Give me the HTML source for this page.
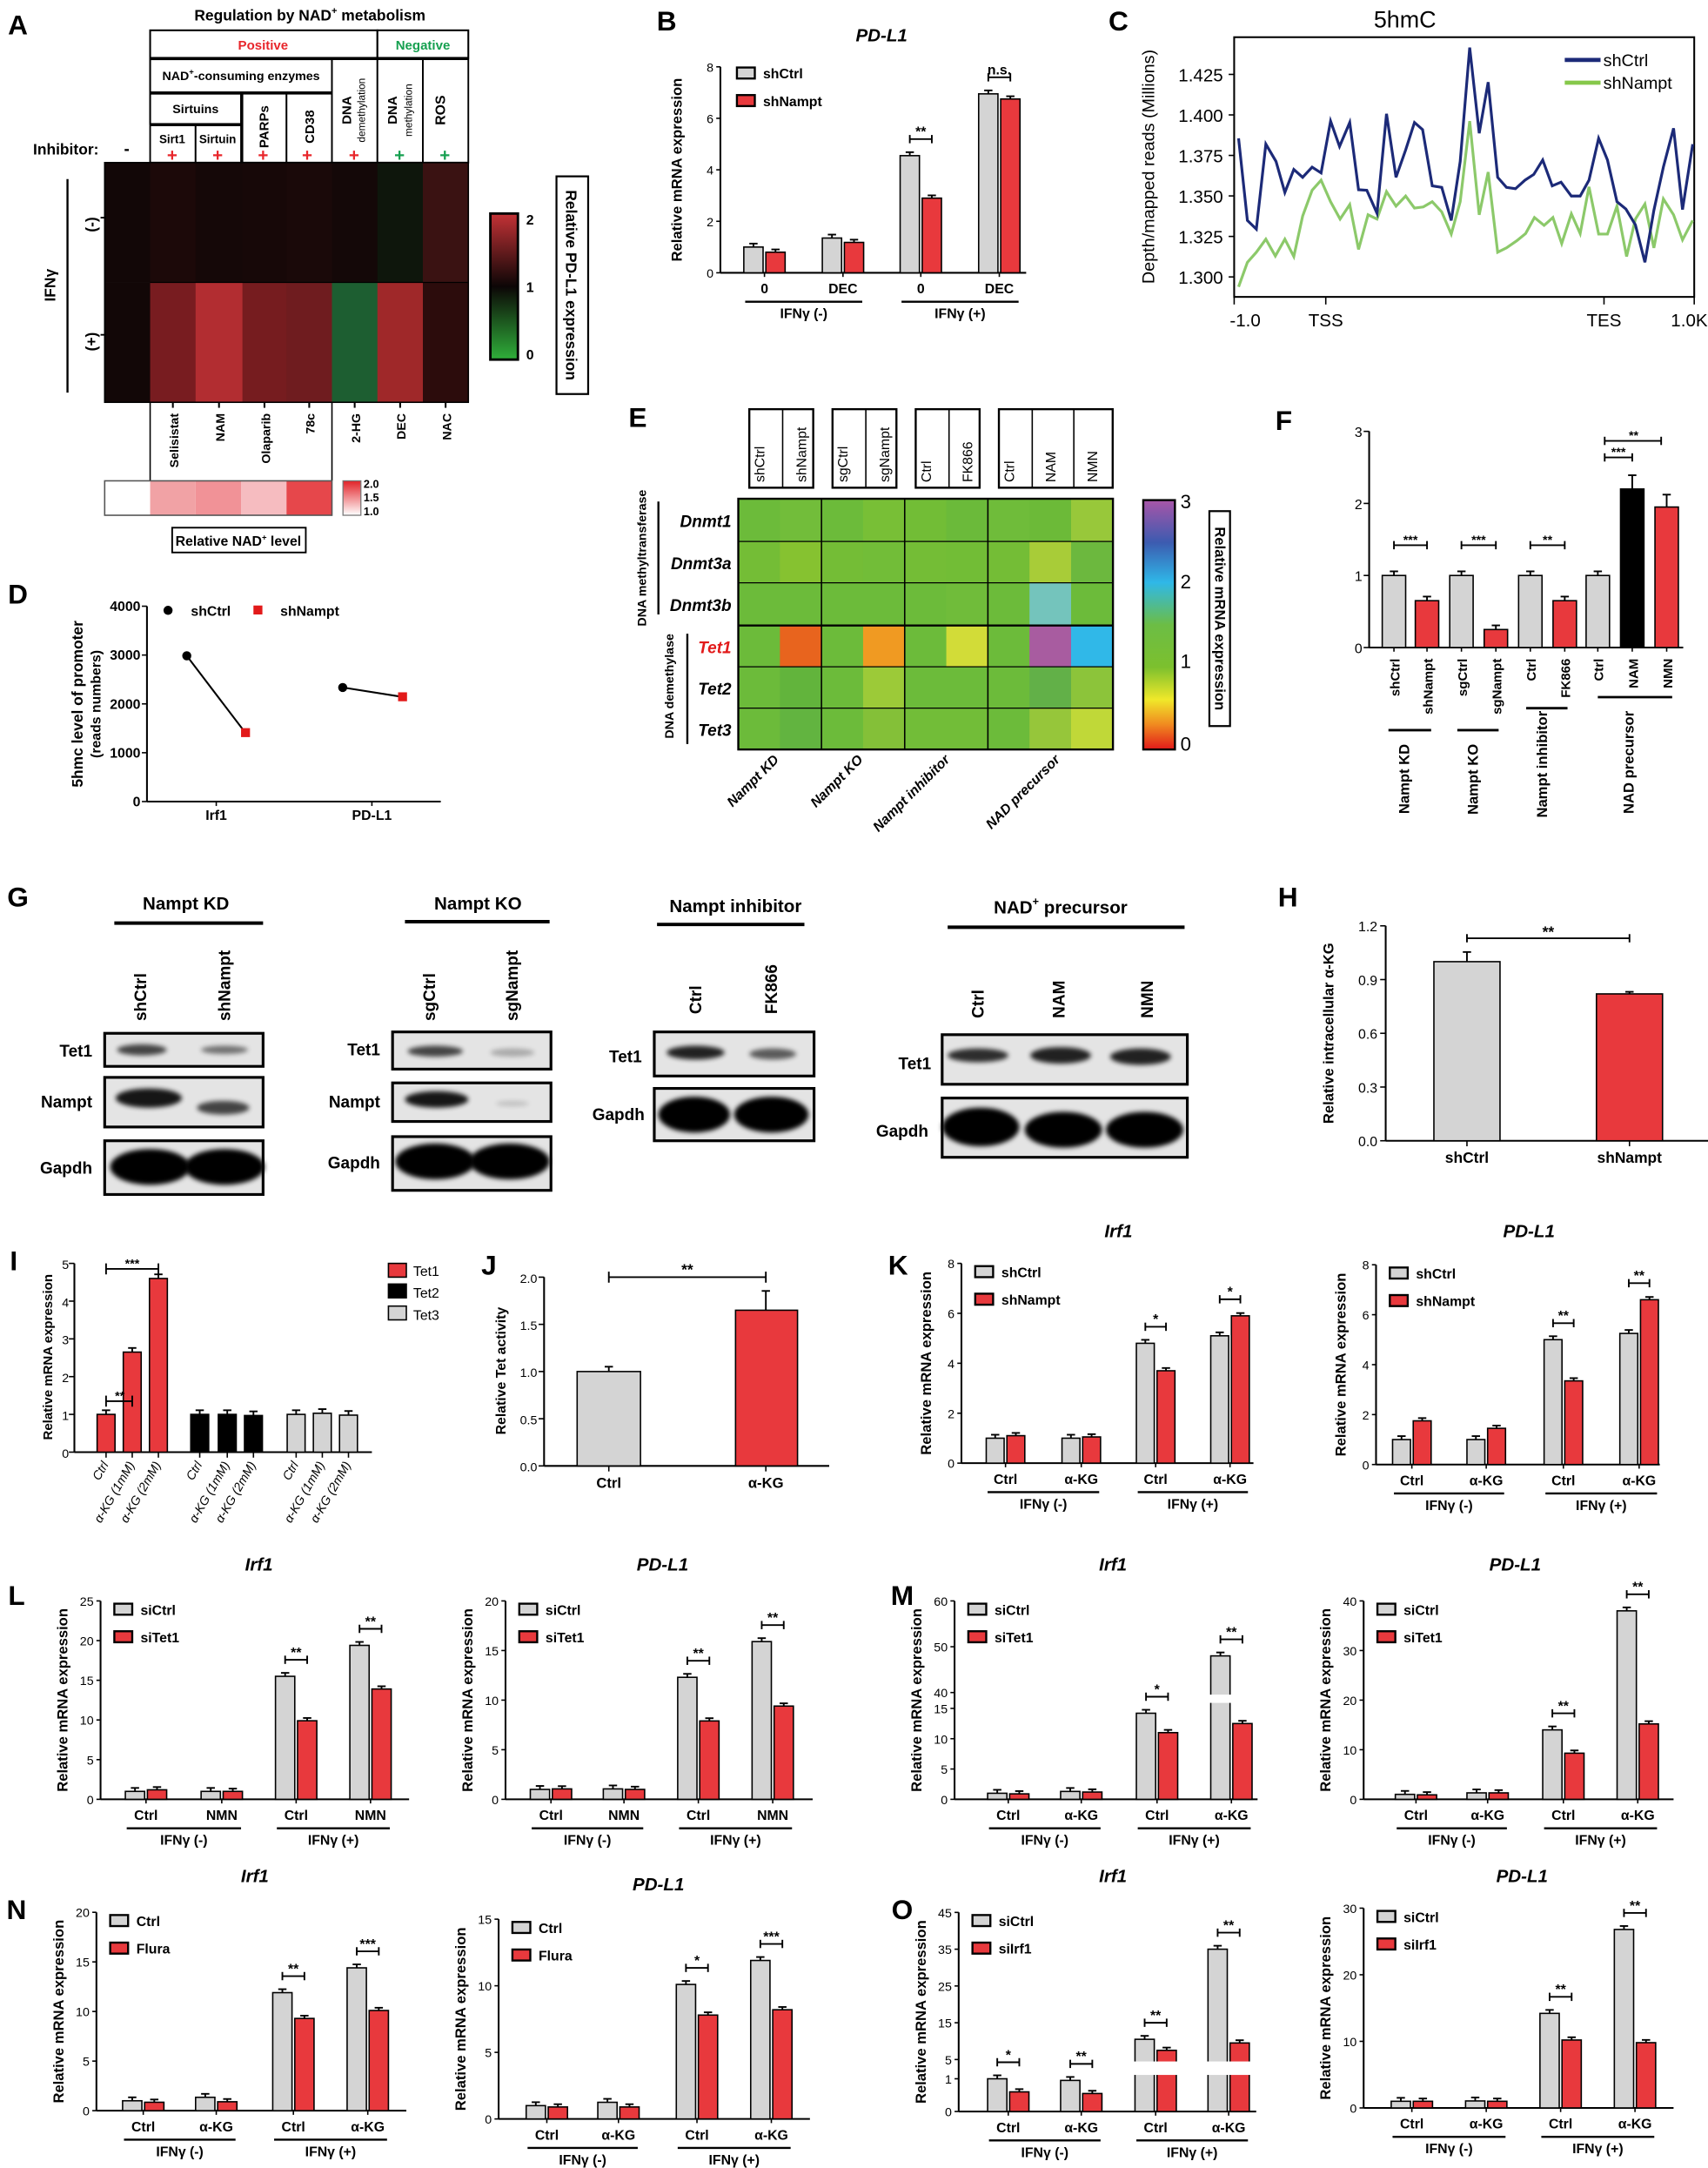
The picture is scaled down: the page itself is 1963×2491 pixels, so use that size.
<!DOCTYPE html>
<html><head><meta charset="utf-8">
<style>html,body{margin:0;padding:0;background:#fff}svg{display:block}text{font-family:"Liberation Sans",Arial,sans-serif}</style>
</head><body>
<svg id="s" xmlns="http://www.w3.org/2000/svg" width="1963" height="2491" viewBox="0 0 1240 1573.6" preserveAspectRatio="none"></svg>
<script>
const S=[];
function R(x,y,w,h,f,st,sw){S.push(`<rect x="${x}" y="${y}" width="${w}" height="${h}" fill="${f}"${st?` stroke="${st}" stroke-width="${sw||0.9}"`:''}/>`);}
function L(x1,y1,x2,y2,w,c){S.push(`<line x1="${x1}" y1="${y1}" x2="${x2}" y2="${y2}" stroke="${c||'#000'}" stroke-width="${w||1}"/>`);}
function T(x,y,s,o){o=o||{};S.push(`<text x="${x}" y="${y}" font-size="${o.fs||10}" font-weight="${o.n?'normal':'bold'}" text-anchor="${o.a||'middle'}" fill="${o.c||'#000'}"${o.i?' font-style="italic"':''}${o.r!=null?` transform="rotate(${o.r} ${x} ${y})"`:''}>${s}</text>`);}
function P(pts,c,w){S.push(`<polyline points="${pts.map(p=>p[0].toFixed(1)+','+p[1].toFixed(1)).join(' ')}" fill="none" stroke="${c}" stroke-width="${w}"/>`);}
const GR='#d4d4d4',RD='#e8393d';
function bar(x,y0,y1,w,f){R(x,Math.min(y0,y1),w,Math.abs(y1-y0),f,'#000',1);}
function eb(x,y,h){L(x,y,x,y-h,1.2);L(x-3,y-h,x+3,y-h,1.2);}
function chart(c){
 const yf=c.yf||(v=>c.bot-(v/c.max)*(c.bot-c.top));
 L(c.ax,c.top,c.ax,c.bot,1.3);L(c.ax,c.bot,c.xend,c.bot,1.3);
 c.ticks.forEach(t=>{const y=(c.tk?c.tk(t):yf(t));L(c.ax-3,y,c.ax,y,1);T(c.ax-5,y+3.5,t,{fs:c.tfs||9,a:'end',n:1});});
 const bw=c.bw||13;
 c.g.forEach((g,i)=>{bar(g-bw-1,c.bot,yf(c.v1[i]),bw,GR);bar(g+1,c.bot,yf(c.v2[i]),bw,RD);
   eb(g-bw/2-1,yf(c.v1[i]),2.5);eb(g+bw/2+1,yf(c.v2[i]),2);
   L(g,c.bot,g,c.bot+3,1);
   T(g,c.bot+15,c.xl[i],{fs:10});});
 (c.sig||[]).forEach(s=>{const g=c.g[s[0]];const y=Math.min(yf(c.v1[s[0]]),yf(c.v2[s[0]]))-(s[2]||12);
   L(g-bw/2-1,y,g+bw/2+1,y,1.2);L(g-bw/2-1,y-3,g-bw/2-1,y+3,1.2);L(g+bw/2+1,y-3,g+bw/2+1,y+3,1.2);T(g,y-2,s[1],{fs:10});});
 L(c.g[0]-bw,c.bot+21,c.g[1]+bw,c.bot+21,1.5);L(c.g[2]-bw,c.bot+21,c.g[3]+bw,c.bot+21,1.5);
 T((c.g[0]+c.g[1])/2,c.bot+33,c.lab?c.lab[0]:'IFNγ (-)',{fs:10});T((c.g[2]+c.g[3])/2,c.bot+33,c.lab?c.lab[1]:'IFNγ (+)',{fs:10});
 const lx=c.lx||c.ax+10,ly=c.ly||c.top+2;
 R(lx,ly,13,8,GR,'#000',1.5);T(lx+19,ly+8,c.leg[0],{fs:10,a:'start'});
 R(lx,ly+20,13,8,RD,'#000',1.5);T(lx+19,ly+28,c.leg[1],{fs:10,a:'start'});
 if(c.title)T(c.tx,c.ty,c.title,{fs:13,i:1});
 T(c.ax-(c.ylx||28),(c.top+c.bot)/2,c.ylab||'Relative mRNA expression',{fs:10.5,r:-90});
}
S.push('<defs><filter id="bl" x="-30%" y="-60%" width="160%" height="220%"><feGaussianBlur stdDeviation="1.6"/></filter><linearGradient id="ga" x1="0" y1="0" x2="0" y2="1"><stop offset="0" stop-color="#c43236"/><stop offset="0.5" stop-color="#0c0606"/><stop offset="1" stop-color="#2fb03a"/></linearGradient><linearGradient id="gn" x1="0" y1="0" x2="0" y2="1"><stop offset="0" stop-color="#e22228"/><stop offset="1" stop-color="#fff"/></linearGradient><linearGradient id="ge" x1="0" y1="0" x2="0" y2="1"><stop offset="0" stop-color="#a855a8"/><stop offset="0.17" stop-color="#3c5bb0"/><stop offset="0.33" stop-color="#2fb8e8"/><stop offset="0.5" stop-color="#6cbd45"/><stop offset="0.67" stop-color="#7cc02e"/><stop offset="0.8" stop-color="#f0e82a"/><stop offset="0.9" stop-color="#f08a20"/><stop offset="1" stop-color="#e21a1a"/></linearGradient></defs>');
// ---------- Panel A ----------
T(13,25,'A',{fs:20});
T(225,15,'Regulation by NAD<tspan font-size="7" dy="-5">+</tspan><tspan dy="5"> metabolism</tspan>',{fs:11});
const cx=[76,109,142,176,208,241,274,307,340];
R(109,22,165,20,'#fff','#000',1.3);T(191,36,'Positive',{fs:9.5,c:'#e8262b'});
R(274,22,66,20,'#fff','#000',1.3);T(307,36,'Negative',{fs:9.5,c:'#16a050'});
R(109,43,132,24,'#fff','#000',1.3);T(175,58,'NAD<tspan font-size="6" dy="-4">+</tspan><tspan dy="4">-consuming enzymes</tspan>',{fs:9});
R(109,68,66,22,'#fff','#000',1.3);T(142,82,'Sirtuins',{fs:9});
R(109,91,33,27,'#fff','#000',1.2);T(125,104,'Sirt1',{fs:8.5});
R(142,91,33,27,'#fff','#000',1.2);T(158,104,'Sirtuin',{fs:8.5});
R(176,68,32,50,'#fff','#000',1.2);T(195,92,'PARPs',{fs:9.5,r:-90});
R(208,68,33,50,'#fff','#000',1.2);T(228,92,'CD38',{fs:9.5,r:-90});
R(241,43,33,75,'#fff','#000',1.2);T(255,80,'DNA',{fs:9.5,r:-90});T(265,80,'demethylation',{fs:7.5,r:-90,n:1});
R(274,43,33,75,'#fff','#000',1.2);T(288,80,'DNA',{fs:9.5,r:-90});T(299,80,'methylation',{fs:7.5,r:-90,n:1});
R(307,43,33,75,'#fff','#000',1.2);T(323,80,'ROS',{fs:10,r:-90});
T(24,112,'Inhibitor:',{fs:11,a:'start'});T(92,112,'-',{fs:12});
[125,158,191,223].forEach(x=>T(x,117,'+',{fs:13,c:'#e8262b'}));T(257,117,'+',{fs:13,c:'#e8262b'});
T(290,117,'+',{fs:13,c:'#16a050'});T(323,117,'+',{fs:13,c:'#16a050'});
const ra=['#120707','#1c0909','#150808','#170808','#1a0909','#140808','#0e160c','#3a1212'];
const rb=['#120707','#781c20','#b22d31','#761c1f','#6f1c1f','#1d5e31','#9f2829','#2c0c0c'];
for(let i=0;i<8;i++){R(cx[i],118,cx[i+1]-cx[i]+0.5,87,ra[i]);R(cx[i],205,cx[i+1]-cx[i]+0.5,87,rb[i]);}
R(76,118,264,174,'none','#000',1);L(109,205,340,205,0.8,'#000');
L(49,130,49,285,1.5);T(40,207,'IFNγ',{fs:11,r:-90});T(70,163,'(-)',{fs:11,r:-90});L(73,158,77,158,1.2);T(70,248,'(+)',{fs:11,r:-90});L(73,243,77,243,1.2);
const al=['Selisistat','NAM','Olaparib','78c','2-HG','DEC','NAC'];
al.forEach((s,i)=>{const x=(cx[i+1]+cx[i+2])/2;L(x,292,x,296,1.3);T(x+4,300,s,{fs:9,r:-90,a:'end'});});
L(109,292,109,349,1);L(241,292,241,349,1);
R(356,155,20,106,'url(#ga)','#000',1.8);T(382,163,'2',{fs:10,a:'start'});T(382,212,'1',{fs:10,a:'start'});T(382,261,'0',{fs:10,a:'start'});
R(404,128,23,158,'#fff','#000',1.4);T(411,207,'Relative PD-L1 expression',{fs:11,r:90});
const nc=['#fff','#f1a2a5','#f19297','#f6bcc0','#e6474b'];
for(let i=0;i<5;i++)R(76+i*33,349,33,25,nc[i]);R(76,349,165,25,'none','#555',1);
R(249,349,13,25,'url(#gn)','#777',0.8);T(264,354,'2.0',{fs:8,a:'start'});T(264,364,'1.5',{fs:8,a:'start'});T(264,374,'1.0',{fs:8,a:'start'});
R(125,383,97,18,'#fff','#000',1.2);T(173,396,'Relative NAD<tspan font-size="6" dy="-4">+</tspan><tspan dy="4"> level</tspan>',{fs:10});
// ---------- Panel B ----------
T(484,22,'B',{fs:20});
chart({ax:523,top:48.5,bot:198,max:8,ticks:[0,2,4,6,8],g:[555,612,668.5,725.5],v1:[1,1.35,4.55,6.95],v2:[0.8,1.18,2.9,6.75],bw:14,xl:['0','DEC','0','DEC'],sig:[[2,'**'],[3,'n.s.']],leg:['shCtrl','shNampt'],title:'PD-L1',tx:640,ty:30,lx:535,ly:49,xend:745});
// ---------- Panel C ----------
T(812,22,'C',{fs:20});T(1020,20,'5hmC',{fs:17,n:1});
R(896,27,334,188.5,'none','#000',1.3);
[[1.3,'1.300'],[1.325,'1.325'],[1.35,'1.350'],[1.375,'1.375'],[1.4,'1.400'],[1.425,'1.425']].forEach(t=>{const y=201-(t[0]-1.3)*1176;L(892,y,896,y,1);T(888,y+5,t[1],{fs:13,a:'end',n:1});});
[[896,'-1.0'],[962.5,'TSS'],[1164.5,'TES'],[1230,'1.0Kb']].forEach(t=>{L(t[0],215.5,t[0],221,1);T(t[0]+(t[1]=='-1.0'?8:0),237,t[1],{fs:13,n:1});});
T(838,121,'Depth/mapped reads (Millions)',{fs:12.5,r:-90,n:1});
const nv=[[872,480],[885,765],[898,795],[912,500],[927,560],[940,668],[953,588],[966,615],[980,580],[993,600],[1007,420],[1020,508],[1035,425],[1048,658],[1060,660],[1075,740],[1089,395],[1103,615],[1117,520],[1130,425],[1142,450],[1156,645],[1170,650],[1184,765],[1197,560],[1211,165],[1225,462],[1238,285],[1252,615],[1265,650],[1278,655],[1292,625],[1305,605],[1318,555],[1332,645],[1345,632],[1360,680],[1373,680],[1386,625],[1400,480],[1413,555],[1427,700],[1440,725],[1454,780],[1468,910],[1481,730],[1495,580],[1510,445],[1523,727],[1538,500]];
const gv=[[872,995],[885,910],[898,875],[912,830],[926,888],[940,830],[953,890],[966,750],[980,660],[993,625],[1007,700],[1021,760],[1035,710],[1048,865],[1062,745],[1075,760],[1089,665],[1103,715],[1117,680],[1130,722],[1143,718],[1156,700],[1170,735],[1184,812],[1197,700],[1211,420],[1225,745],[1238,597],[1252,875],[1265,860],[1280,835],[1293,810],[1306,755],[1320,782],[1333,755],[1346,845],[1360,742],[1373,810],[1386,648],[1400,812],[1413,812],[1427,715],[1441,890],[1454,760],[1468,708],[1481,860],[1495,690],[1510,745],[1523,832],[1538,765]];
const cv=p=>p.map(a=>[467.5+a[0]/2.02,a[1]/4.78]);
P(cv(gv),'#8cc96a',2);P(cv(nv),'#1c2a78',2);
L(1136,43.5,1162,43.5,3,'#1c2a78');T(1164,48,'shCtrl',{fs:12.5,a:'start',n:1});
L(1136,60,1162,60,3,'#86c84a');T(1164,64.5,'shNampt',{fs:12.5,a:'start',n:1});
// ---------- Panel D ----------
T(13,438,'D',{fs:20});
L(106.7,440,106.7,581.8,1.3);L(106.7,581.8,320,581.8,1.3);
[0,1000,2000,3000,4000].forEach(v=>{const y=581.8-v/4000*141.8;L(103,y,106.7,y,1);T(102,y+3.5,v,{fs:10,a:'end'});});
L(157,581.8,157,585,1);L(270,581.8,270,585,1);T(157,595,'Irf1',{fs:10});T(270,595,'PD-L1',{fs:10});
L(135.6,476,178,531.7,1.3);L(248.8,499,292,505.8,1.3);
S.push('<circle cx="135.6" cy="476" r="3.3" fill="#000"/><circle cx="248.8" cy="499" r="3.3" fill="#000"/><circle cx="122" cy="443" r="3.3" fill="#000"/>');
R(175,528.5,6.5,6.5,'#e21a1a');R(289,502.5,6.5,6.5,'#e21a1a');R(184,439.5,6.5,6.5,'#e21a1a');
T(138.6,447,'shCtrl',{fs:10,a:'start'});T(203.5,447,'shNampt',{fs:10,a:'start'});
T(60,511,'5hmc level of promoter',{fs:11,r:-90});T(73,511,'(reads numbers)',{fs:10,r:-90});
// ---------- Panel E ----------
T(463,310,'E',{fs:20});
const E=[
['#6cbb3a','#72bd3a','#6cbb3a','#78bf36','#72bd36','#6bba3a','#6fbc3a','#6cba38','#98c83a'],
['#74bd36','#86c230','#74bd36','#72bd38','#74bd36','#72bd36','#74bd36','#a8cc38','#6cb83e'],
['#6cbb3a','#6cbb3a','#6cbb3a','#6cbb3a','#6cbb3a','#70bc3a','#6cbb3a','#74c4bc','#6cbb3a'],
['#6cbb3a','#e8641e','#6cbb3a','#f09a22','#6cbb3a','#d2dc38','#6cbb3a','#a85ca0','#30b8e8'],
['#6cbb3a','#62b43c','#6cbb3a','#9cca38','#6cbb3a','#6cbb3a','#6cbb3a','#62b048','#8cc43a'],
['#6cbb3a','#62b440','#6cbb3a','#84c038','#72bd38','#72bd38','#6cbb3a','#96c63a','#c0d838']];
const ex=i=>536+i*30.2,ey=[362,393,423,454,484,514,544];
for(let r=0;r<6;r++)for(let c=0;c<9;c++)R(ex(c),ey[r],30.7,ey[r+1]-ey[r]+0.5,E[r][c]);
R(536,362,272,182,'none','#000',1.5);
[1,2,3,4,5].forEach(i=>L(536,ey[i],808,ey[i],i==3?1.5:0.8));
[2,4,6].forEach(i=>L(ex(i),362,ex(i),544,1));
const en=['shCtrl','shNampt','sgCtrl','sgNampt','Ctrl','FK866','Ctrl','NAM','NMN'];
const egs=[[0,2],[2,4],[4,6],[6,9]];
egs.forEach(g=>{const x0=ex(g[0])+8,x1=ex(g[1])-(g[1]==9?0:6);R(x0,297,x1-x0,57,'#fff','#000',1.5);for(let k=g[0]+1;k<g[1];k++)L(ex(k)+2,297,ex(k)+2,354,1);});
en.forEach((s,i)=>T(ex(i)+19,350,s,{fs:10,r:-90,a:'start',n:1}));
const rn=['Dnmt1','Dnmt3a','Dnmt3b','Tet1','Tet2','Tet3'];
rn.forEach((s,i)=>T(531,(ey[i]+ey[i+1])/2+5,s,{fs:12,i:1,a:'end',c:i==3?'#e21a1a':'#000'}));
L(478,364,478,446,1.5);L(499,460,499,540,1.5);
T(469,405,'DNA methyltransferase',{fs:9,r:-90});T(489,498,'DNA demethylase',{fs:9,r:-90});
[['Nampt KD',566],['Nampt KO',627],['Nampt inhibitor',690],['NAD precursor',770]].forEach(t=>T(t[1],552,t[0],{fs:10,i:1,a:'end',r:-45}));
R(830,363,23,181,'url(#ge)','#000',1.5);
T(857,369,'3',{fs:14,a:'start',n:1});T(857,427,'2',{fs:14,a:'start',n:1});T(857,485,'1',{fs:14,a:'start',n:1});T(857,545,'0',{fs:14,a:'start',n:1});
R(878,371,15,156,'#fff','#000',1.4);T(882,449,'Relative mRNA expression',{fs:10.5,r:90});
// ---------- Panel F ----------
T(932,312,'F',{fs:20});
L(994,313,994,470,1.3);L(994,470,1222,470,1.3);
[0,1,2,3].forEach(v=>{const y=470-v*52.3;L(990,y,994,y,1);T(989,y+4,v,{fs:10,a:'end',n:1});});
const fx=[1012,1036,1061,1086,1111,1136,1160,1185,1210],fv=[1,0.65,1,0.25,1,0.65,1,2.2,1.95],fc=[GR,RD,GR,RD,GR,RD,GR,'#000',RD];
fx.forEach((x,i)=>{const y=470-fv[i]*52.3;bar(x-8.5,470,y,17,fc[i]);eb(x,y,i==7?10:i==8?9:3);L(x,470,x,473,1);
 T(x+4,478,['shCtrl','shNampt','sgCtrl','sgNampt','Ctrl','FK866','Ctrl','NAM','NMN'][i],{fs:9.5,r:-90,a:'end'});});
[[0,'***'],[2,'***'],[4,'**']].forEach(s=>{const y=470-52.3-22;L(fx[s[0]],y,fx[s[0]+1],y,1.2);L(fx[s[0]],y-3,fx[s[0]],y+3,1.2);L(fx[s[0]+1],y-3,fx[s[0]+1],y+3,1.2);T((fx[s[0]]+fx[s[0]+1])/2,y-1,s[1],{fs:9});});
L(1165,332,1185,332,1.2);L(1165,329,1165,335,1.2);L(1185,329,1185,335,1.2);T(1175,331,'***',{fs:9});
L(1165,320,1206,320,1.2);L(1165,317,1165,323,1.2);L(1206,317,1206,323,1.2);T(1186,319,'**',{fs:9});
L(1008,530,1039,530,1.8);L(1058,530,1088,530,1.8);L(1108,514,1138,514,1.8);L(1160,506,1214,506,1.8);
T(1023,540,'Nampt KD',{fs:10.5,r:-90,a:'end'});T(1073,540,'Nampt KO',{fs:10.5,r:-90,a:'end'});T(1123,516,'Nampt inhibitor',{fs:10.5,r:-90,a:'end'});T(1186,516,'NAD precursor',{fs:10.5,r:-90,a:'end'});
// ---------- Panel G ----------
T(13,658,'G',{fs:20});
function blot(x,y,w,h,bands){R(x,y,w,h,'#e4e4e4','#000',2);bands.forEach(b=>S.push(`<ellipse cx="${b[0]}" cy="${b[1]}" rx="${b[2]}" ry="${b[3]}" fill="#000" opacity="${b[4]}" filter="url(#bl)"/>`));}
T(135,660,'Nampt KD',{fs:13});L(83,670,191,670,2.5);
T(106,741,'shCtrl',{fs:12,r:-90,a:'start'});T(167,741,'shNampt',{fs:12,r:-90,a:'start'});
blot(76,750,115,24,[[103,762,18,4,0.7],[163,762,17,3,0.5]]);blot(76,782,115,36,[[108,797,24,7,0.9],[162,804,19,5,0.7]]);blot(76,828,115,39,[[109,847,29,13,1],[163,847,29,13,1]]);
T(67,767,'Tet1',{fs:12,a:'end'});T(67,804,'Nampt',{fs:12,a:'end'});T(67,852,'Gapdh',{fs:12,a:'end'});
T(347,660,'Nampt KO',{fs:13});L(294,669,399,669,2.5);
T(316,741,'sgCtrl',{fs:12,r:-90,a:'start'});T(376,741,'sgNampt',{fs:12,r:-90,a:'start'});
blot(285,749,115,27,[[316,763,20,4,0.7],[372,764,16,3,0.25]]);blot(285,786,115,28,[[317,798,23,6,0.9],[372,801,12,2,0.15]]);blot(285,825,115,39,[[316,843,29,13,1],[370,843,29,13,1]]);
T(276,766,'Tet1',{fs:12,a:'end'});T(276,804,'Nampt',{fs:12,a:'end'});T(276,848,'Gapdh',{fs:12,a:'end'});
T(534,662,'Nampt inhibitor',{fs:13});L(477,671,584,671,2.5);
T(509,736,'Ctrl',{fs:12,r:-90,a:'start'});T(564,736,'FK866',{fs:12,r:-90,a:'start'});
blot(475,749,116,32,[[505,764,21,5,0.85],[561,765,17,4,0.6]]);blot(475,790,116,38,[[504,809,26,13,1],[560,809,27,13,1]]);
T(466,771,'Tet1',{fs:12,a:'end'});T(468,813,'Gapdh',{fs:12,a:'end'});
T(770,663,'NAD<tspan font-size="8" dy="-6">+</tspan><tspan dy="6"> precursor</tspan>',{fs:13});L(688,673,860,673,2.5);
T(714,739,'Ctrl',{fs:12,r:-90,a:'start'});T(773,739,'NAM',{fs:12,r:-90,a:'start'});T(837,739,'NMN',{fs:12,r:-90,a:'start'});
blot(684,751,178,36,[[710,766,22,5,0.8],[770,766,22,6,0.85],[828,767,22,6,0.85]]);blot(684,797,178,43,[[712,818,28,14,1],[772,820,28,13,1],[831,820,28,13,1]]);
T(676,776,'Tet1',{fs:12,a:'end'});T(674,825,'Gapdh',{fs:12,a:'end'});
// ---------- Panel H ----------
T(935,658,'H',{fs:20});
L(1006,672,1006,828,1.3);L(1006,828,1240,828,1.3);
[[0,'0.0'],[0.3,'0.3'],[0.6,'0.6'],[0.9,'0.9'],[1.2,'1.2']].forEach(t=>{const y=828-t[0]*130;L(1002,y,1006,y,1);T(1000,y+4,t[1],{fs:10,a:'end',n:1});});
bar(1041,828,698,48,GR);bar(1159,828,721.4,48,RD);eb(1065,698,7);eb(1183,721.4,1.5);
L(1065,681,1183,681,1.2);L(1065,678,1065,684,1.2);L(1183,678,1183,684,1.2);T(1124,680,'**',{fs:11});
L(1065,828,1065,832,1);L(1183,828,1183,832,1);T(1065,844,'shCtrl',{fs:11});T(1183,844,'shNampt',{fs:11});
T(968,750,'Relative intracellular α-KG',{fs:10.5,r:-90});
// ---------- Panel I ----------
T(10,922,'I',{fs:20});
L(54,917,54,1054,1.3);L(54,1054,270,1054,1.3);
[0,1,2,3,4,5].forEach(v=>{const y=1054-v*27.4;L(50,y,54,y,1);T(50,y+4,v,{fs:9,a:'end',n:1});});
const ix=[77,96,115,145,165,184,215,234,253],iv=[1,2.65,4.6,1,1,0.97,1,1.03,0.98],ic=[RD,RD,RD,'#000','#000','#000',GR,GR,GR];
ix.forEach((x,i)=>{const y=1054-iv[i]*27.4;bar(x-6.5,1054,y,13,ic[i]);eb(x,y,3);L(x,1054,x,1058,1);
 T(x+2,1063,['Ctrl','α-KG (1mM)','α-KG (2mM)'][i%3],{fs:9,i:1,n:1,a:'end',r:-60});});
L(77,1017,96,1017,1.2);L(77,1013,77,1021,1.2);L(96,1013,96,1021,1.2);T(87,1016,'**',{fs:9});
L(77,921,115,921,1.2);L(77,917,77,925,1.2);L(115,917,115,925,1.2);T(96,920,'***',{fs:9});
R(282,917,13,10,RD,'#000',1);T(300,926,'Tet1',{fs:10,a:'start',n:1});R(282,932,13,10,'#000','#000',1);T(300,942,'Tet2',{fs:10,a:'start',n:1});R(282,948,13,10,GR,'#000',1);T(300,958,'Tet3',{fs:10,a:'start',n:1});
T(38,985,'Relative mRNA expression',{fs:9.5,r:-90});
// ---------- Panel J ----------
T(355,925,'J',{fs:20});
L(395,927,395,1064,1.3);L(395,1064,602,1064,1.3);
[[0,'0.0'],[0.5,'0.5'],[1,'1.0'],[1.5,'1.5'],[2,'2.0']].forEach(t=>{const y=1064-t[0]*68.5;L(391,y,395,y,1);T(390,y+4,t[1],{fs:9,a:'end',n:1});});
bar(419,1064,995.5,46,GR);bar(534,1064,951,45,RD);eb(442,995.5,3.5);eb(556,951,14);
L(442,927,556,927,1.2);L(442,923,442,931,1.2);L(556,923,556,931,1.2);T(499,925,'**',{fs:11});
L(442,1064,442,1068,1);L(556,1064,556,1068,1);T(442,1080,'Ctrl',{fs:10.5});T(556,1080,'α-KG',{fs:10.5});
T(367,995,'Relative Tet activity',{fs:10,r:-90});
// ---------- Panel K ----------
T(652,925,'K',{fs:20});
chart({ax:698,top:917,bot:1062,max:8,ticks:[0,2,4,6,8],g:[730,785,839,893],v1:[1,1,4.8,5.1],v2:[1.1,1.05,3.7,5.9],bw:13,xl:['Ctrl','α-KG','Ctrl','α-KG'],sig:[[2,'*'],[3,'*']],leg:['shCtrl','shNampt'],title:'Irf1',tx:812,ty:898,xend:910,ylx:22,tfs:9});
chart({ax:999,top:918,bot:1063,max:8,ticks:[0,2,4,6,8],g:[1025,1079,1135,1190],v1:[1,1,5,5.25],v2:[1.75,1.45,3.35,6.6],bw:13,xl:['Ctrl','α-KG','Ctrl','α-KG'],sig:[[2,'**'],[3,'**']],leg:['shCtrl','shNampt'],title:'PD-L1',tx:1110,ty:898,xend:1205,ylx:22,tfs:9});
// ---------- Row L, M ----------
const zy=z=>(z/2.26+1800)/1.583;
T(12,1165,'L',{fs:20});
chart({ax:73,top:1162,bot:1306,max:25,ticks:[0,5,10,15,20,25],g:[106,161,215,269],v1:[1,1,15.5,19.4],v2:[1.2,1,9.9,13.9],bw:14,xl:['Ctrl','NMN','Ctrl','NMN'],sig:[[2,'**'],[3,'**']],leg:['siCtrl','siTet1'],title:'Irf1',tx:188,ty:1140,xend:297,ylx:24,tfs:9});
chart({ax:367,top:1162,bot:1306,max:20,ticks:[0,5,10,15,20],g:[400,453,507,561],v1:[1,1.05,12.3,15.9],v2:[1.05,1,7.9,9.4],bw:14,xl:['Ctrl','NMN','Ctrl','NMN'],sig:[[2,'**'],[3,'**']],leg:['siCtrl','siTet1'],title:'PD-L1',tx:481,ty:1140,xend:590,ylx:24,tfs:9});
T(655,1165,'M',{fs:20});
const myf=v=>v<=15?1306-v*(66/15):(v<40?1237:1228.5-(v-40)*(66.5/20));
chart({ax:693,top:1162,bot:1306,max:60,yf:myf,tk:myf,ticks:[0,5,10,15,40,50,60],g:[732,785,840,894],v1:[1,1.3,14.2,48],v2:[0.9,1.2,11,12.5],bw:14,xl:['Ctrl','α-KG','Ctrl','α-KG'],sig:[[2,'*'],[3,'**']],leg:['siCtrl','siTet1'],title:'Irf1',tx:808,ty:1140,xend:913,ylx:24,tfs:9});
R(870,1230,30,6,'#fff');
chart({ax:990,top:1162,bot:1306,max:40,ticks:[0,10,20,30,40],g:[1028,1080,1135,1189],v1:[1,1.3,14,38],v2:[0.9,1.3,9.3,15.2],bw:14,xl:['Ctrl','α-KG','Ctrl','α-KG'],sig:[[2,'**'],[3,'**']],leg:['siCtrl','siTet1'],title:'PD-L1',tx:1100,ty:1140,xend:1215,ylx:24,tfs:9});
// ---------- Row N, O ----------
T(12,1393,'N',{fs:20});
chart({ax:70,top:1388,bot:1532,max:20,ticks:[0,5,10,15,20],g:[104,157,213,267],v1:[1,1.35,11.9,14.4],v2:[0.85,0.9,9.3,10.1],bw:14,xl:['Ctrl','α-KG','Ctrl','α-KG'],sig:[[2,'**'],[3,'***']],leg:['Ctrl','Flura'],title:'Irf1',tx:185,ty:1366,xend:295,ylx:24,tfs:9});
chart({ax:362,top:1393,bot:1538,max:15,ticks:[0,5,10,15],g:[397,449,506,560],v1:[1,1.25,10.1,11.9],v2:[0.9,0.9,7.8,8.2],bw:14,xl:['Ctrl','α-KG','Ctrl','α-KG'],sig:[[2,'*'],[3,'***']],leg:['Ctrl','Flura'],title:'PD-L1',tx:478,ty:1372,xend:588,ylx:24,tfs:9});
T(655,1393,'O',{fs:20});
const oyf=v=>v<=1.2?zy(1415-v*85):zy(1280-(v-5)*9.55);
chart({ax:696,top:1388,bot:1532.6,max:45,yf:oyf,tk:v=>v==1?zy(1330):v==0?zy(1415):oyf(v),ticks:[0,1,5,15,25,35,45],g:[732,785,839,892],v1:[1,0.95,10.5,35],v2:[0.6,0.55,7.5,9.5],bw:14,xl:['Ctrl','α-KG','Ctrl','α-KG'],sig:[[0,'*'],[1,'**'],[2,'**'],[3,'**']],leg:['siCtrl','siIrf1'],title:'Irf1',tx:808,ty:1366,xend:912,ylx:24,tfs:9});
R(820,zy(1285),95,zy(1320)-zy(1285),'#fff');
chart({ax:990,top:1385,bot:1530,max:30,ticks:[0,10,20,30],g:[1025,1079,1133,1187],v1:[1,1.05,14.2,26.8],v2:[1,1,10.2,9.8],bw:14,xl:['Ctrl','α-KG','Ctrl','α-KG'],sig:[[2,'**'],[3,'**']],leg:['siCtrl','siIrf1'],title:'PD-L1',tx:1105,ty:1366,xend:1215,ylx:24,tfs:9});
document.getElementById('s').innerHTML=S.join('');
</script>
</body></html>
